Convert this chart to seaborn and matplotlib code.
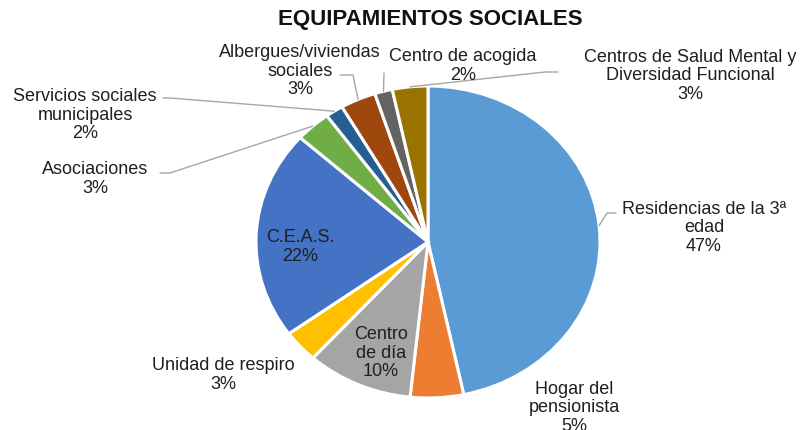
import matplotlib
matplotlib.use("Agg")
import matplotlib.pyplot as plt
import seaborn as sns
import numpy as np

# ---- data ----
categories = [
    "Residencias de la 3ª\nedad",
    "Hogar del\npensionista",
    "Centro\nde día",
    "Unidad de respiro",
    "C.E.A.S.",
    "Asociaciones",
    "Servicios sociales\nmunicipales",
    "Albergues/viviendas\nsociales",
    "Centro de acogida",
    "Centros de Salud Mental y\nDiversidad Funcional",
]
counts = [28, 3, 6, 2, 13, 2, 1, 2, 1, 2]
colors = ["#5B9BD5", "#ED7D31", "#A5A5A5", "#FFC000", "#4472C4",
          "#70AD47", "#255E91", "#9E480E", "#636363", "#997300"]
title = "EQUIPAMIENTOS SOCIALES"

# ---- layout (pixels from top-left of the 802x430 image) ----
W, H = 802, 430
label_pos = [(704, 228), (574, 408), (381, 353), (223, 375), (300, 247),
             (95, 179), (85, 115), (300, 71), (463, 66), (690, 76)]
# leader start points (label side), None = no leader
leader_start = [[(616, 213), (607, 213)], None, None, None, None,
                [(160, 173), (170, 173)], [(163, 98), (170, 98)],
                [(340, 75), (353, 75)], [(384, 73)], [(558, 72), (545, 72)]]

sns.set_theme(style="white")
plt.rcParams["font.family"] = ["Liberation Sans", "DejaVu Sans"]

palette = sns.color_palette(colors)

fig = plt.figure(figsize=(W / 100, H / 100), dpi=100)
cx, cy, rx, ry = 428, 242, 172, 156
ax = fig.add_axes([(cx - rx) / W, (H - cy - ry) / H, 2 * rx / W, 2 * ry / H])
wedges, _ = ax.pie(counts, colors=palette, startangle=90, counterclock=False,
                   wedgeprops=dict(edgecolor="white", linewidth=2.2))
ax.set_aspect("auto")
ax.set_xlim(-1, 1)
ax.set_ylim(-1, 1)
ax.axis("off")

total = sum(counts)
to_fig = lambda p: (p[0] / W, 1 - p[1] / H)

for i, (w, cat, c) in enumerate(zip(wedges, categories, counts)):
    pct = round(100 * c / total)
    x, y = to_fig(label_pos[i])
    fig.text(x, y, f"{cat}\n{pct}%", ha="center", va="center",
             fontsize=13, color="#1f1f1f", linespacing=1.08)
    if leader_start[i] is not None:
        ang = np.deg2rad((w.theta1 + w.theta2) / 2)
        edge = (np.cos(ang), np.sin(ang))
        disp = ax.transData.transform(edge)
        ex, ey = fig.transFigure.inverted().transform(disp)
        pts = [to_fig(p) for p in leader_start[i]] + [(ex, ey)]
        xs, ys = zip(*pts)
        fig.add_artist(plt.Line2D(xs, ys, transform=fig.transFigure,
                                  color="#A6A6A6", linewidth=1.0))

fig.text(430 / W, 1 - 20 / H, title, ha="center", va="center",
         fontsize=16, fontweight="bold", color="#111111")

fig.savefig("out.png", dpi=100)
